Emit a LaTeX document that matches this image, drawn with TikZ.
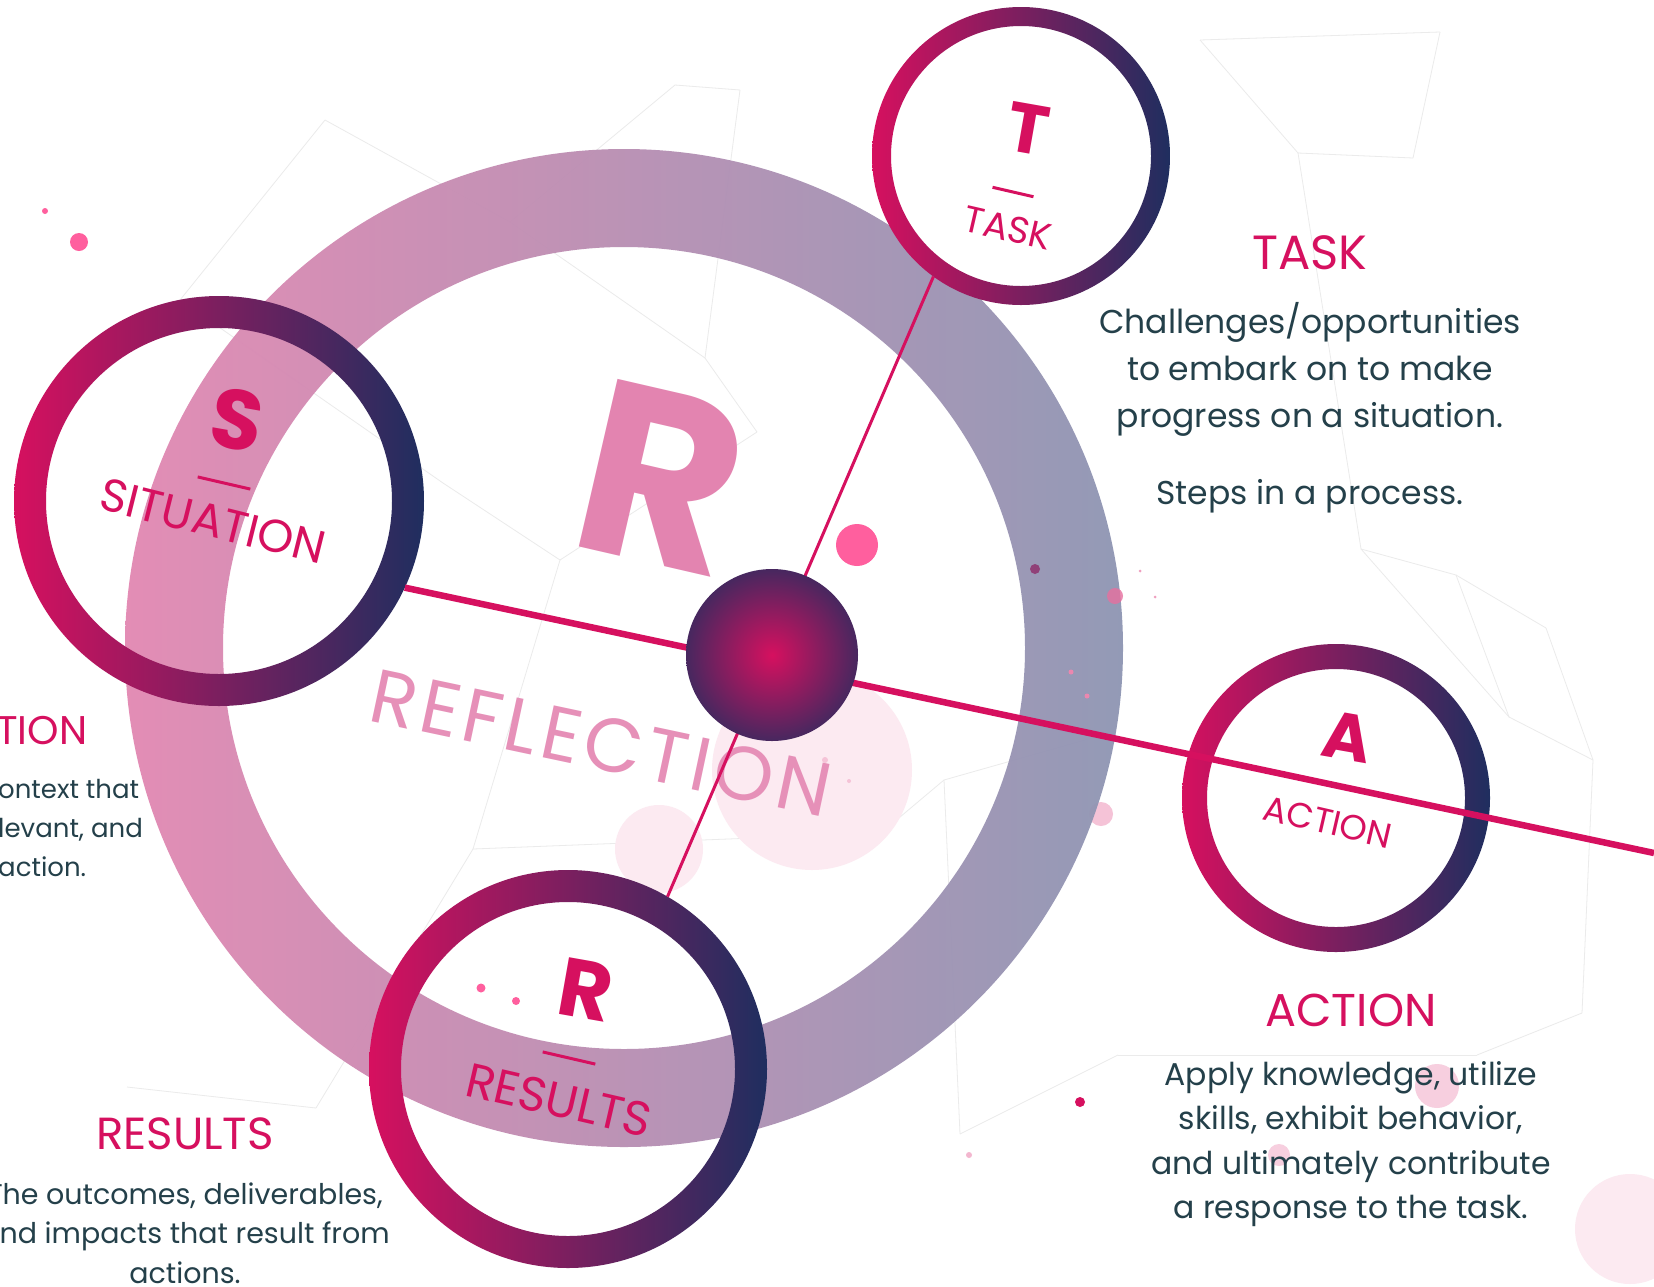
\documentclass[tikz,border=0pt]{standalone}
\usepackage{fontspec}
\setmainfont{Poppins}
\usepackage{tikz}
\definecolor{starpink}{HTML}{D6105F}
\definecolor{starnavy}{HTML}{1F2E5F}
\definecolor{ringpink}{HTML}{E287B2}
\definecolor{ringgrey}{HTML}{8E95B3}
\definecolor{softpink}{HTML}{E384B0}
\definecolor{bodyink}{HTML}{24404A}
\definecolor{dotpink}{HTML}{FF5F9E}
\definecolor{mistpink}{HTML}{FCEAF1}
\pgfdeclareradialshading{coreshade}{\pgfpoint{0bp}{0bp}}{color(0bp)=(starpink); color(32bp)=(starnavy); color(50bp)=(starnavy)}
\tikzset{hub/.style={circle,inner sep=0pt,outer sep=0pt},
  hoop/.style={left color=starpink,right color=starnavy,even odd rule},
  spoke/.style={draw=starpink,line cap=butt},
  capletter/.style={text=starpink,inner sep=0pt,rotate=-10,font=\fontsize{#1}{#1}\selectfont\bfseries},
  tag/.style={text=starpink,inner sep=0pt,rotate=-13,font=\fontsize{#1}{#1}\selectfont},
  underbar/.style={fill=starpink,minimum width=#1,minimum height=3pt,inner sep=0pt,rotate=-13},
  head/.style={text=starpink,inner sep=0pt,font=\fontsize{#1}{#1}\selectfont},
  head/.default=46,
  body/.style 2 args={text=bodyink,align=center,inner sep=0pt,font=\fontsize{#1}{#2}\selectfont},
  web/.style={draw=gray!16,line width=0.8pt}}

\begin{document}
\begin{tikzpicture}[x=1pt,y=-1pt]
    \clip (0,0) rectangle (1654,1286);
    \fill[white] (0,0) rectangle (1654,1286);

    % faint network behind
    \foreach \xa/\ya/\xb/\yb in {325/120/510/222, 510/222/675/85, 675/85/740/90, 510/222/705/358,
      705/358/757/432, 740/90/705/358, 1298/153/1413/158, 1413/158/1440/32, 1298/153/1200/40,
      1200/40/1440/32, 1361/549/1456/575, 1456/575/1546/628, 1546/628/1593/760, 1593/760/1509/717,
      1509/717/1456/575, 1361/549/1509/717, 757/432/560/560, 443/483/560/560, 473/849/560/560,
      944/780/881/833, 944/780/1092/738, 881/833/473/849, 1118/1055/960/1134, 960/1134/944/780,
      316/1108/127/1087, 316/1108/473/849, 1477/1055/1582/1013, 1477/1055/1118/1055,
      1582/1013/1593/760, 180/300/325/120, 180/300/443/483, 1298/153/1361/549}
      \draw[web] (\xa,\ya) -- (\xb,\yb);

    % soft pink spots
    \fill[mistpink] (812,770) circle (100pt);
    \fill[mistpink] (659,849) circle (44pt);
    \fill[mistpink] (1630,1229) circle (55pt);
    \fill[starpink!20] (1437,1086) circle (22pt);
    \fill[starpink!20] (1279,1155) circle (11pt);
    \fill[starpink!25] (1101,814) circle (12pt);

    % reflection ring
    \coordinate (ringc) at (624,648);
    \shade[left color=ringpink,right color=ringgrey,even odd rule,opacity=0.95] (ringc) circle (499pt) (ringc) circle (401pt);

    \node[text=softpink,inner sep=0pt,rotate=-13,font=\fontsize{245}{245}\selectfont\bfseries] (bigr) at (662,478) {R};
    \node[text=softpink!90,inner sep=0pt,rotate=-12,font=\fontsize{76}{76}\selectfont\addfontfeatures{LetterSpace=6}] (refl) at (601,743) {REFLECTION};

    % the four stages
    \node[hub,minimum size=410pt] (sit) at (219,501) {};
    \node[hub,minimum size=298pt] (task) at (1021,156) {};
    \node[hub,minimum size=308pt] (act) at (1336,798) {};
    \node[hub,minimum size=398pt] (res) at (568,1069) {};
    \node[hub,minimum size=172pt] (core) at (772,655) {};
    \coordinate (far) at (1654,853);

    \shade[hoop] (sit.center) circle (205pt) (sit.center) circle (173pt);
    \shade[hoop] (task.center) circle (149pt) (task.center) circle (130pt);
    \shade[hoop] (act.center) circle (154pt) (act.center) circle (129pt);
    \shade[hoop] (res.center) circle (199pt) (res.center) circle (167pt);

    \draw[spoke,line width=6.5pt] (sit.-25) -- (far);
    \draw[spoke,line width=3pt] (task.-126) -- (res.60);
    \shade[shading=coreshade] (core.center) circle (86pt);

    \node[capletter=84] (sitL) at (237,420) {S};
    \node[underbar=54pt] (sitB) at (224,483) {};
    \node[tag=46,rotate=-1] (sitT) at (213,521) {SITUATION};

    \node[capletter=70] (taskL) at (1028,129) {T};
    \node[underbar=42pt] (taskB) at (1013,192) {};
    \node[tag=37] (taskT) at (1008,228) {TASK};

    \node[capletter=66] (actL) at (1347,737) {A};
    \node[tag=35] (actT) at (1328,822) {ACTION};

    \node[capletter=82] (resL) at (586,990) {R};
    \node[underbar=54pt] (resB) at (569,1058) {};
    \node[tag=48] (resT) at (559,1100) {RESULTS};

    % little dots
    \fill[dotpink] (79,242) circle (9pt);
    \fill[dotpink] (45,211) circle (3pt);
    \fill[dotpink] (857,545) circle (21pt);
    \fill[starpink!60!starnavy,opacity=0.7] (1035,569) circle (5pt);
    \fill[starpink!60,opacity=0.8] (1115,596) circle (8pt);
    \fill[starpink!50] (1071,672) circle (2.5pt);
    \fill[starpink!50] (1087,696) circle (2.5pt);
    \fill[starpink!40] (1140,571) circle (1.5pt);
    \fill[starpink!40] (1155,597) circle (1.5pt);
    \fill[starpink] (1080,1102) circle (5pt);
    \fill[starpink!30] (969,1155) circle (3pt);
    \fill[dotpink] (481,988) circle (4.5pt);
    \fill[dotpink] (516,1001) circle (4pt);
    \fill[starpink!25] (825,760) circle (3pt);
    \fill[starpink!25] (849,781) circle (2pt);

    % descriptions
    \node[head=48] (taskH) at (1310,253) {TASK};
    \node[body={33}{47}] (taskP) at (1310,369) {Challenges/opportunities\\to embark on to make\\progress on a situation.};
    \node[body={33}{47}] (taskS) at (1310,496) {Steps in a process.};

    \node[head] (actH) at (1351,1010) {ACTION};
    \node[body={31.5}{44.5}] (actP) at (1351,1144) {Apply knowledge, utilize\\skills, exhibit behavior,\\and ultimately contribute\\a response to the task.};

    \node[head=45] (resH) at (185,1134) {RESULTS};
    \node[body={28.5}{39.5}] (resP) at (185,1233) {The outcomes, deliverables,\\and impacts that result from\\actions.};

    \node[head=40,anchor=west] (sitH) at (-4,731) {TION};
    \node[body={26}{39},align=left,anchor=west] (sitP) at (-2,828) {ontext that\\levant, and\\action.};
\end{tikzpicture}
\end{document}
